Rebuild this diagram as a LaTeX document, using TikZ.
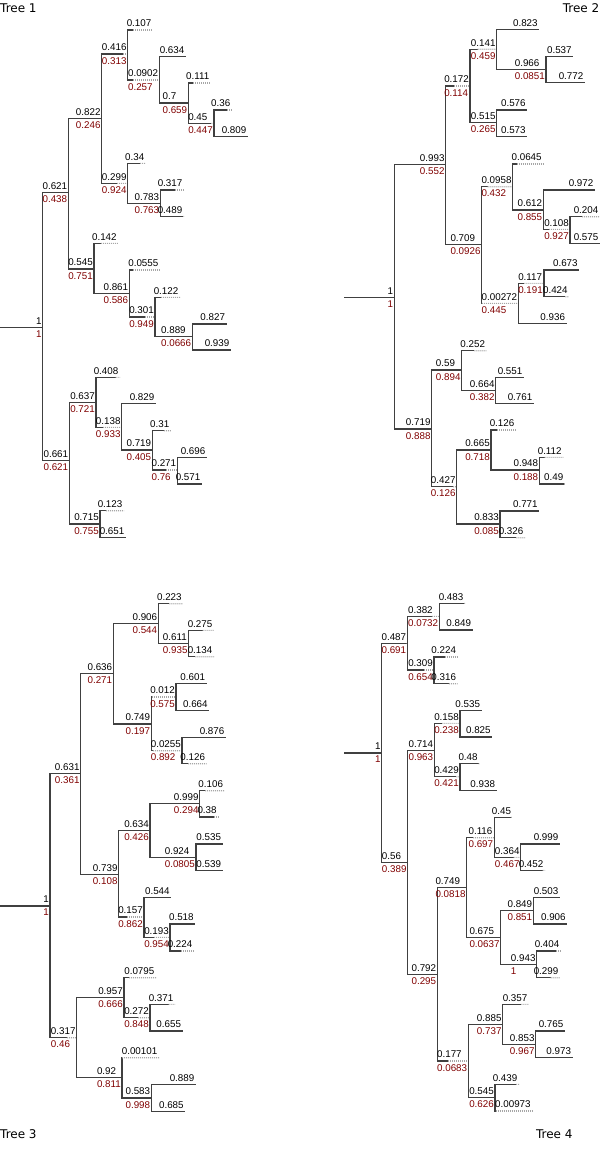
\documentclass[tikz,border=0pt]{standalone}
\usepackage{fontspec}
\setmainfont{Liberation Sans}
\newfontfamily\labfam{Liberation Sans}
\newfontfamily\ttlfam{DejaVu Sans}
\usetikzlibrary{calc}
\definecolor{labred}{RGB}{128,0,0}
\definecolor{edgec}{RGB}{64,64,64}
\newlength\labwa
\newlength\labwb
\newcommand\labfont{\labfam\fontsize{9.8}{11}\selectfont}
\newcommand\setlabw[2]{\settowidth{\labwa}{#1}\settowidth{\labwb}{#2}\ifdim\labwb>\labwa\setlength{\labwa}{\labwb}\fi}
\newcommand\pairbox[3]{\setlabw{#1}{#2}\makebox[\labwa][l]{#3}}
\tikzset{
  edge/.style={draw=edgec, line width=1.2pt},
  edgedot/.style={draw=gray!70, line width=1.1pt, dash pattern=on 1pt off 1pt},
  lblk/.style={font=\labfont, text=black, anchor=south east, inner sep=0pt, xshift=-1pt, yshift=3pt},
  redlab/.style={font=\labfont, text=labred, anchor=north east, inner sep=0pt, xshift=-1pt, yshift=-3pt},
  lleaf/.style={font=\labfont, text=black, anchor=south east, inner sep=0pt, xshift=-1.5pt, yshift=3pt},
  ttl/.style={font=\ttlfam\fontsize{12}{14}\selectfont, inner sep=0pt}
}
\newcommand\edgeto[3]{%
  \pgfmathsetmacro\efr{min(1,2*#3)}%
  \coordinate (tmpA) at (#1|-#2);
  \coordinate (tmpB) at ($(tmpA)!\efr!(#2)$);
  \draw[edge] (#1) |- (tmpB);
  \ifdim\efr pt<0.999pt \draw[edgedot] (tmpB) -- (#2);\fi
}
% internal node: name, x, y, parent, black, red
\newcommand\inode[6]{%
  \coordinate (#1) at (#2,#3);
  \edgeto{#4}{#1}{#5}
  \node[lblk] (#1-v) at (#1) {\pairbox{#5}{#6}{#5}};
  \node[redlab] (#1-p) at (#1) {\pairbox{#5}{#6}{#6}};
}
% leaf: name, x, y, parent, black
\newcommand\leafnode[5]{%
  \coordinate (#1) at (#2,#3);
  \edgeto{#4}{#1}{#5}
  \node[lleaf] (#1-v) at (#1) {#5};
}
\begin{document}
\begin{tikzpicture}[x=1pt,y=-1pt]
\useasboundingbox (0,0) rectangle (600,1156);
% titles
\node[ttl, anchor=north west] (title1) at (0,3.3) {Tree 1};
\node[ttl, anchor=north east] (title2) at (599.5,3.3) {Tree 2};
\node[ttl, anchor=north west] (title3) at (0,1129.3) {Tree 3};
\node[ttl, anchor=north east] (title4) at (572.7,1129.3) {Tree 4};

% ---------------- Tree 1 ----------------
\coordinate (as) at (0,327.7);
\inode{a0}{42.7}{327.7}{as}{1}{1}
\inode{a1}{68.3}{192.7}{a0}{0.621}{0.438}
\inode{a11}{101.7}{118.3}{a1}{0.822}{0.246}
\inode{a111}{127.7}{54}{a11}{0.416}{0.313}
\leafnode{a1111}{153}{30}{a111}{0.107}
\inode{a1112}{159.3}{80}{a111}{0.0902}{0.257}
\leafnode{a11121}{186}{56.7}{a1112}{0.634}
\inode{a11122}{188.3}{103}{a1112}{0.7}{0.659}
\leafnode{a111221}{211}{83}{a11122}{0.111}
\inode{a111222}{214}{123.3}{a11122}{0.45}{0.447}
\leafnode{a1112221}{232}{110}{a111222}{0.36}
\leafnode{a1112222}{248}{136.7}{a111222}{0.809}
\inode{a112}{127.7}{183.3}{a11}{0.299}{0.924}
\leafnode{a1121}{146}{163.3}{a112}{0.34}
\inode{a1122}{160.3}{203.3}{a112}{0.783}{0.763}
\leafnode{a11221}{184}{190}{a1122}{0.317}
\leafnode{a11222}{184}{216.3}{a1122}{0.489}
\inode{a12}{94}{269}{a1}{0.545}{0.751}
\leafnode{a121}{118.3}{243.3}{a12}{0.142}
\inode{a122}{129.3}{293.3}{a12}{0.861}{0.586}
\leafnode{a1221}{160}{270}{a122}{0.0555}
\inode{a1222}{155}{317}{a122}{0.301}{0.949}
\leafnode{a12221}{180}{297.3}{a1222}{0.122}
\inode{a12222}{192.3}{336.7}{a1222}{0.889}{0.0666}
\leafnode{a122221}{226.7}{324}{a12222}{0.827}
\leafnode{a122222}{231}{350}{a12222}{0.939}
\inode{a2}{69.3}{460.7}{a0}{0.661}{0.621}
\inode{a21}{96}{402.3}{a2}{0.637}{0.721}
\leafnode{a211}{120}{377.3}{a21}{0.408}
\inode{a212}{121.7}{427.3}{a21}{0.138}{0.933}
\leafnode{a2121}{156}{403.3}{a212}{0.829}
\inode{a2122}{152.3}{450}{a212}{0.719}{0.405}
\leafnode{a21221}{171}{430.7}{a2122}{0.31}
\inode{a21222}{177.3}{470}{a2122}{0.271}{0.76}
\leafnode{a212221}{207}{457.3}{a21222}{0.696}
\leafnode{a212222}{202}{484}{a21222}{0.571}
\inode{a22}{100}{524}{a2}{0.715}{0.755}
\leafnode{a221}{124}{510.7}{a22}{0.123}
\leafnode{a222}{126}{537.7}{a22}{0.651}

% ---------------- Tree 2 ----------------
\coordinate (bs) at (344,297.3);
\inode{b0}{394.3}{297.3}{bs}{1}{1}
\inode{b1}{445.7}{164.7}{b0}{0.993}{0.552}
\inode{b11}{470}{86}{b1}{0.172}{0.114}
\inode{b111}{496.7}{49.3}{b11}{0.141}{0.459}
\leafnode{b1111}{539.3}{29.7}{b111}{0.823}
\inode{b1112}{546}{69.7}{b111}{0.966}{0.0851}
\leafnode{b11121}{573.3}{56.3}{b1112}{0.537}
\leafnode{b11122}{585}{82.7}{b1112}{0.772}
\inode{b112}{496.7}{122.7}{b11}{0.515}{0.265}
\leafnode{b1121}{527.3}{110}{b112}{0.576}
\leafnode{b1122}{527.3}{136.7}{b112}{0.573}
\inode{b12}{481.7}{244.3}{b1}{0.709}{0.0926}
\inode{b121}{512.7}{186.7}{b12}{0.0958}{0.432}
\leafnode{b1211}{543.3}{164}{b121}{0.0645}
\inode{b1212}{543.3}{210}{b121}{0.612}{0.855}
\leafnode{b12121}{595}{190}{b1212}{0.972}
\inode{b12122}{570}{229.3}{b1212}{0.108}{0.927}
\leafnode{b121221}{600}{216.7}{b12122}{0.204}
\leafnode{b121222}{600}{243.3}{b12122}{0.575}
\inode{b122}{518.3}{303.3}{b12}{0.00272}{0.445}
\inode{b1221}{544}{283.3}{b122}{0.117}{0.191}
\leafnode{b12211}{579.3}{270}{b1221}{0.673}
\leafnode{b12212}{569.3}{296.7}{b1221}{0.424}
\leafnode{b1222}{566.7}{323.3}{b122}{0.936}
\inode{b2}{431.7}{429}{b0}{0.719}{0.888}
\inode{b21}{461.7}{370}{b2}{0.59}{0.894}
\leafnode{b211}{486.7}{350.7}{b21}{0.252}
\inode{b212}{495.7}{390.3}{b21}{0.664}{0.382}
\leafnode{b2121}{524}{377.3}{b212}{0.551}
\leafnode{b2122}{534}{403.3}{b212}{0.761}
\inode{b22}{456.7}{486.7}{b2}{0.427}{0.126}
\inode{b221}{491}{450}{b22}{0.665}{0.718}
\leafnode{b2211}{516}{430}{b221}{0.126}
\inode{b2212}{539.3}{470}{b221}{0.948}{0.188}
\leafnode{b22121}{563.3}{457.3}{b2212}{0.112}
\leafnode{b22122}{565}{484}{b2212}{0.49}
\inode{b222}{500}{524}{b22}{0.833}{0.085}
\leafnode{b2221}{539.3}{511}{b222}{0.771}
\leafnode{b2222}{525}{537.7}{b222}{0.326}

% ---------------- Tree 3 ----------------
\coordinate (cs) at (0,906);
\inode{c0}{50}{906}{cs}{1}{1}
\inode{c1}{80.7}{773.7}{c0}{0.631}{0.361}
\inode{c11}{113.3}{673.7}{c1}{0.636}{0.271}
\inode{c111}{158.3}{623.3}{c11}{0.906}{0.544}
\leafnode{c1111}{183.3}{603.7}{c111}{0.223}
\inode{c1112}{188.7}{643.7}{c111}{0.611}{0.935}
\leafnode{c11121}{214}{630.3}{c1112}{0.275}
\leafnode{c11122}{214}{656.7}{c1112}{0.134}
\inode{c112}{151.3}{724}{c11}{0.749}{0.197}
\inode{c1121}{176}{697}{c112}{0.012}{0.575}
\leafnode{c11211}{206.7}{683.7}{c1121}{0.601}
\leafnode{c11212}{209.3}{710.3}{c1121}{0.664}
\inode{c1122}{182}{750.7}{c112}{0.0255}{0.892}
\leafnode{c11221}{226}{737.3}{c1122}{0.876}
\leafnode{c11222}{206.7}{763.7}{c1122}{0.126}
\inode{c12}{118.7}{874.3}{c1}{0.739}{0.108}
\inode{c121}{150}{830.7}{c12}{0.634}{0.426}
\inode{c1211}{199.7}{803.7}{c121}{0.999}{0.294}
\leafnode{c12111}{224.7}{790.7}{c1211}{0.106}
\leafnode{c12112}{218.3}{817}{c1211}{0.38}
\inode{c1212}{196}{857.3}{c121}{0.924}{0.0805}
\leafnode{c12121}{222.7}{844}{c1212}{0.535}
\leafnode{c12122}{222.7}{870.3}{c1212}{0.539}
\inode{c122}{144}{917}{c12}{0.157}{0.862}
\leafnode{c1221}{171.3}{897.7}{c122}{0.544}
\inode{c1222}{170}{937.3}{c122}{0.193}{0.954}
\leafnode{c12221}{195.3}{924}{c1222}{0.518}
\leafnode{c12222}{194}{951}{c1222}{0.224}
\inode{c2}{76.7}{1037.7}{c0}{0.317}{0.46}
\inode{c21}{124}{997.7}{c2}{0.957}{0.666}
\leafnode{c211}{156}{977.7}{c21}{0.0795}
\inode{c212}{150}{1017.7}{c21}{0.272}{0.848}
\leafnode{c2121}{175}{1004.3}{c212}{0.371}
\leafnode{c2122}{182.7}{1031}{c212}{0.655}
\inode{c22}{122}{1077.7}{c2}{0.92}{0.811}
\leafnode{c221}{159}{1057.7}{c22}{0.00101}
\inode{c222}{151.3}{1098}{c22}{0.583}{0.998}
\leafnode{c2221}{196}{1084.7}{c222}{0.889}
\leafnode{c2222}{185.3}{1111.3}{c222}{0.685}

% ---------------- Tree 4 ----------------
\coordinate (ds) at (344,753);
\inode{d0}{381.7}{753}{ds}{1}{1}
\inode{d1}{407.3}{643.3}{d0}{0.487}{0.691}
\inode{d11}{439.3}{616.3}{d1}{0.382}{0.0732}
\leafnode{d111}{465}{603.3}{d11}{0.483}
\leafnode{d112}{472.7}{630}{d11}{0.849}
\inode{d12}{434}{670}{d1}{0.309}{0.654}
\leafnode{d121}{457.7}{657}{d12}{0.224}
\leafnode{d122}{457.7}{683.7}{d12}{0.316}
\inode{d2}{407.7}{862.3}{d0}{0.56}{0.389}
\inode{d21}{434.3}{750.3}{d2}{0.714}{0.963}
\inode{d211}{460}{723.3}{d21}{0.158}{0.238}
\leafnode{d2111}{481.7}{710.3}{d211}{0.535}
\leafnode{d2112}{492.3}{737}{d211}{0.825}
\inode{d212}{460}{776.7}{d21}{0.429}{0.421}
\leafnode{d2121}{479.3}{763.7}{d212}{0.48}
\leafnode{d2122}{496.7}{790.7}{d212}{0.938}
\inode{d22}{437.3}{974.3}{d2}{0.792}{0.295}
\inode{d221}{466.7}{887.3}{d22}{0.749}{0.0818}
\inode{d2211}{494.3}{837.7}{d221}{0.116}{0.697}
\leafnode{d22111}{512.7}{817.3}{d2211}{0.45}
\inode{d22112}{520.7}{857.3}{d2211}{0.364}{0.467}
\leafnode{d221121}{560}{844}{d22112}{0.999}
\leafnode{d221122}{545}{870.3}{d22112}{0.452}
\inode{d2212}{500.7}{937.3}{d221}{0.675}{0.0637}
\inode{d22121}{533.3}{910.7}{d2212}{0.849}{0.851}
\leafnode{d221211}{560}{897.3}{d22121}{0.503}
\leafnode{d221212}{567.3}{924}{d22121}{0.906}
\inode{d22122}{536.7}{964.3}{d2212}{0.943}{1}
\leafnode{d221221}{561}{951}{d22122}{0.404}
\leafnode{d221222}{560}{977.7}{d22122}{0.299}
\inode{d222}{468.3}{1061}{d22}{0.177}{0.0683}
\inode{d2221}{502.7}{1024.3}{d222}{0.885}{0.737}
\leafnode{d22211}{529}{1004.3}{d2221}{0.357}
\inode{d22212}{535.7}{1044.3}{d2221}{0.853}{0.967}
\leafnode{d222121}{565}{1031}{d22212}{0.765}
\leafnode{d222122}{572.7}{1057.7}{d22212}{0.973}
\inode{d2222}{495}{1097.7}{d222}{0.545}{0.626}
\leafnode{d22221}{519}{1084.3}{d2222}{0.439}
\leafnode{d22222}{532.3}{1111}{d2222}{0.00973}
\end{tikzpicture}
\end{document}
